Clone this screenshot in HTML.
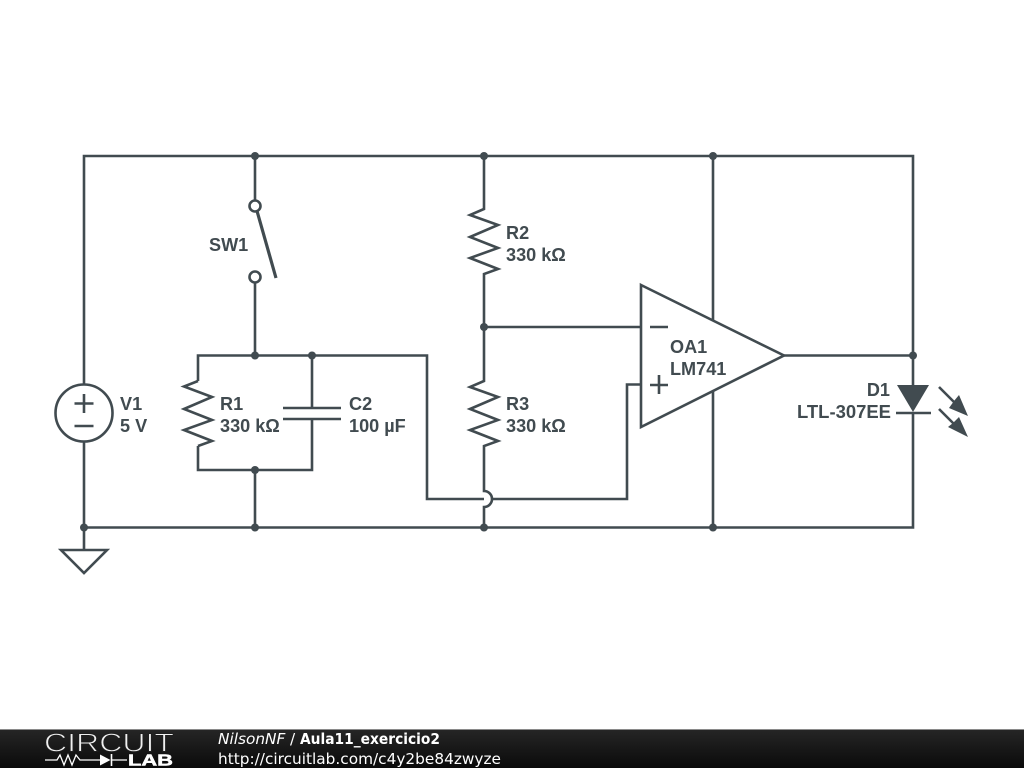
<!DOCTYPE html>
<html><head><meta charset="utf-8"><style>
html,body{margin:0;padding:0;background:#fff;width:1024px;height:768px;overflow:hidden}
svg{display:block}
.l{font:bold 18.100px "Liberation Sans",sans-serif;fill:#414b50}
.w{fill:none;stroke:#414b50;stroke-width:2.600;stroke-linejoin:miter}
.f{font:15.330px "DejaVu Sans",sans-serif;fill:#fff}
.b{font:bold 15px "DejaVu Sans",sans-serif;fill:#fff}
.i{font:italic 15.330px "DejaVu Sans",sans-serif;fill:#fff}
</style></head><body>
<svg width="1024" height="768" viewBox="0 0 1024 768" xmlns="http://www.w3.org/2000/svg">
<defs><linearGradient id="g" x1="0" y1="0" x2="0" y2="1"><stop offset="0" stop-color="#262626"/><stop offset="1" stop-color="#0a0a0a"/></linearGradient></defs>
<rect width="1024" height="768" fill="#fff"/>
<g class="w">
<!-- outer wires -->
<path d="M84 385V156H913V385M913 413V527.500H84M84 441V550"/>
<path d="M61 550H107L84 573Z"/>
<circle cx="84" cy="413" r="28.500"/>
<path d="M74.500 403.500H93.500M84 394V413M74.500 426H93.500"/>
<!-- switch -->
<path d="M255 156V200M255 283V355"/>
<circle cx="255" cy="206" r="5.500"/><circle cx="255" cy="277" r="5.500"/>
<path d="M257 211L276 278" stroke-width="3.200"/>
<!-- R1 / C2 box -->
<path d="M198 381V355.500H427V499H484M492 499H627V384.500H641"/>
<path d="M198 446V470H312V419M312 355V408M255 470V527"/>
<path d="M198 381L184 386.500L212 397L184 409L212 420L184 430L212 441L198 446"/>
<path d="M283 408H341M283 419H341"/>
<!-- R2 R3 -->
<path d="M484 156V209L470 215L498 225L470 237L498 248L470 258L498 269L484 274V381L470 387L498 397L470 409L498 420L470 430L498 441L484 446V491A8 8 0 0 1 484 507V527"/>
<path d="M484 327H641"/>
<!-- opamp -->
<path d="M713 156V321M713 391V527M784 355.500H913"/>
<path d="M641 285L784 355.500L641 427Z"/>
<path d="M650 327H668M650 385H668M659 375V394"/>
<!-- diode -->
<path d="M896 413H931"/>
<path d="M939 387L958 406M939 409L958 428"/>
</g>
<path d="M897 385H929L913 412Z" fill="#414b50"/>
<g fill="#414b50">
<path d="M968 416L949 408L954 401L959 395Z"/><path d="M968 437L948 427L953 423L959 417Z"/>
</g>
<g fill="#414b50">
<circle cx="255" cy="156" r="4"/><circle cx="484" cy="156" r="4"/><circle cx="713" cy="156" r="4"/>
<circle cx="484" cy="327" r="4"/><circle cx="255" cy="355.500" r="4"/><circle cx="312" cy="355.500" r="4"/>
<circle cx="913" cy="355.500" r="4"/><circle cx="255" cy="470" r="4"/>
<circle cx="84" cy="527.500" r="4"/><circle cx="255" cy="527.500" r="4"/><circle cx="484" cy="527.500" r="4"/><circle cx="713" cy="527.500" r="4"/>
</g>
<text class="l" x="209" y="251">SW1</text>
<text class="l" x="120" y="410">V1</text><text class="l" x="120" y="432">5 V</text>
<text class="l" x="220" y="410">R1</text><text class="l" x="220" y="432">330 kΩ</text>
<text class="l" x="349" y="410">C2</text><text class="l" x="349" y="432">100 µF</text>
<text class="l" x="506" y="239">R2</text><text class="l" x="506" y="261">330 kΩ</text>
<text class="l" x="506" y="410">R3</text><text class="l" x="506" y="432">330 kΩ</text>
<text class="l" x="670" y="353">OA1</text><text class="l" x="670" y="375">LM741</text>
<text class="l" x="890" y="396" text-anchor="end">D1</text><text class="l" x="891" y="418" text-anchor="end" textLength="94" lengthAdjust="spacingAndGlyphs">LTL-307EE</text>
<!-- footer -->
<rect x="0" y="729" width="1024" height="39" fill="url(#g)"/>
<rect x="0" y="729" width="1024" height="1" fill="#8a8a8a"/>
<text x="44" y="751.500" font-family="Liberation Sans,sans-serif" font-size="26" fill="#f0f0f0" stroke="#1f1f1f" stroke-width="0.900" textLength="130" lengthAdjust="spacingAndGlyphs">CIRCUIT</text>
<text x="128" y="765.500" font-family="Liberation Sans,sans-serif" font-weight="bold" font-size="15.500" fill="#fff" stroke="#fff" stroke-width="0.500" textLength="45" lengthAdjust="spacingAndGlyphs">LAB</text>
<path d="M45 760H57L60 755L64 765L68 755L72 765L76 755L80 760H100M111 760H127" fill="none" stroke="#fff" stroke-width="1.300"/>
<path d="M100 754.500V765.500L110.500 760Z" fill="#fff"/><path d="M111.500 754V766" stroke="#fff" stroke-width="1.600"/>
<text class="i" x="218" y="744">NilsonNF</text>
<text class="f" x="290" y="744">/</text>
<text class="b" x="300" y="744" textLength="140" lengthAdjust="spacingAndGlyphs">Aula11_exercicio2</text>
<text class="f" x="218" y="764">http://circuitlab.com/c4y2be84zwyze</text>
</svg>
</body></html>
